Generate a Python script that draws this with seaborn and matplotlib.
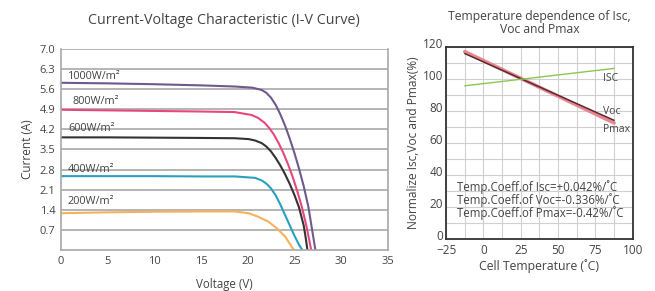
import matplotlib
matplotlib.use("Agg")
import matplotlib.pyplot as plt
import matplotlib.transforms as mtransforms
import seaborn as sns
import pandas as pd
import numpy as np

sns.set_style("white")
plt.rcParams['font.family'] = ['Open Sans', 'DejaVu Sans']

# I-V curves (voltage V, current A)
v_1000 = [0, 5, 10, 15, 18.6, 20.5, 21.5, 22.0, 22.5, 23.0, 23.5, 24.0, 24.5, 25.0, 25.5, 26.0, 26.5, 26.9, 27.25]
i_1000 = [5.82, 5.80, 5.77, 5.73, 5.69, 5.65, 5.57, 5.47, 5.30, 5.05, 4.72, 4.33, 3.88, 3.38, 2.83, 2.22, 1.50, 0.70, 0.0]
v_800 = [0, 5, 10, 15, 18.6, 20.4, 21.1, 21.8, 22.3, 22.8, 23.3, 23.8, 24.3, 24.8, 25.3, 25.8, 26.3, 26.8]
i_800 = [4.88, 4.86, 4.84, 4.82, 4.80, 4.70, 4.60, 4.43, 4.25, 4.02, 3.73, 3.39, 3.00, 2.56, 2.06, 1.50, 0.82, 0.0]
v_600 = [0, 5, 10, 15, 18.6, 20.1, 20.8, 21.5, 22.0, 22.5, 23.0, 23.5, 24.0, 24.5, 25.0, 25.5, 26.0, 26.2, 26.4]
i_600 = [3.92, 3.92, 3.91, 3.90, 3.89, 3.86, 3.81, 3.72, 3.60, 3.43, 3.20, 2.94, 2.64, 2.30, 1.92, 1.48, 0.85, 0.45, 0.0]
v_400 = [0, 5, 10, 15, 18.6, 20.8, 21.5, 22.0, 22.5, 23.0, 23.5, 24.0, 24.5, 25.0, 25.5, 25.85]
i_400 = [2.57, 2.57, 2.57, 2.56, 2.56, 2.51, 2.42, 2.31, 2.14, 1.90, 1.58, 1.22, 0.86, 0.50, 0.18, 0.0]
v_200 = [0, 5, 10, 15, 18.6, 20.1, 21.1, 22.2, 23.1, 24.0, 24.7, 24.95]
i_200 = [1.28, 1.31, 1.33, 1.34, 1.34, 1.28, 1.16, 0.99, 0.76, 0.47, 0.12, 0.0]

irr_labels = ["1000W/m²", "800W/m²", "600W/m²", "400W/m²", "200W/m²"]
irr_colors = ["#6e5a8c", "#e8477d", "#333333", "#2a9fbe", "#f6b25a"]
label_y = [6.05, 5.17, 4.22, 2.80, 1.67]
label_x = [0.75, 1.2, 0.75, 0.75, 0.75]

# temperature dependence (deg C, %)
temp = [-12.5, 87.5]
isc_pct = [95.8, 106.7]
voc_pct = [116.0, 74.2]
pmax_pct = [117.2, 72.6]
coeff_text = ["Temp.Coeff.of Isc=+0.042%/˚C",
              "Temp.Coeff.of Voc=-0.336%/˚C",
              "Temp.Coeff.of Pmax=-0.42%/˚C"]

iv = pd.concat([
    pd.DataFrame({"V": v, "I": i, "irr": lab})
    for v, i, lab in zip([v_1000, v_800, v_600, v_400, v_200],
                         [i_1000, i_800, i_600, i_400, i_200], irr_labels)
])
tc = pd.DataFrame({
    "T": temp * 3,
    "pct": pmax_pct + voc_pct + isc_pct,
    "s": ["Pmax"] * 2 + ["Voc"] * 2 + ["Isc"] * 2,
})

fig = plt.figure(figsize=(6.55, 2.91), dpi=100)
ax1 = fig.add_axes([0.093, 0.141, 0.499, 0.691])
ax2 = fig.add_axes([0.681, 0.179, 0.285, 0.659])

txt = "#444444"

# ---- left: I-V curve
for y in np.arange(0.7, 7.01, 0.7):
    ax1.axhline(y, color="#a8a8a8", lw=1.2, zorder=0)
sns.lineplot(data=iv, x="V", y="I", hue="irr", palette=irr_colors, hue_order=irr_labels,
             estimator=None, sort=False, lw=1.5, legend=False, ax=ax1)
for lab, x, y in zip(irr_labels, label_x, label_y):
    ax1.text(x, y, lab, fontsize=7.8, color=txt, va="center")
ax1.set_xlim(0, 35)
ax1.set_ylim(0, 7.0)
ax1.set_xticks(range(0, 36, 5))
ax1.set_yticks(np.round(np.arange(0.7, 7.01, 0.7), 1))
ax1.set_yticklabels([f"{t:.1f}" for t in np.arange(0.7, 7.01, 0.7)])
ax1.tick_params(labelsize=8, colors=txt, length=0, pad=4)
for s in ax1.spines.values():
    s.set_color("#a8a8a8")
    s.set_linewidth(1.2)
ax1.spines["top"].set_visible(False)
ax1.set_xlabel("Voltage (V)", fontsize=8.3, color=txt, labelpad=8)
ax1.set_ylabel("Current (A)", fontsize=8.5, color=txt, labelpad=4)
ax1.set_title("Current-Voltage Characteristic (I-V Curve)", fontsize=10.3, color=txt, pad=18)

# ---- right: temperature dependence
for x in np.arange(-25, 100.1, 12.5):
    ax2.axvline(x, color="#d0d0d0", lw=0.8, zorder=0)
for y in range(0, 121, 10):
    ax2.axhline(y, color="#d0d0d0", lw=0.8, zorder=0)
sns.lineplot(data=tc, x="T", y="pct", hue="s", hue_order=["Pmax", "Voc", "Isc"],
             palette=["#e8868f", "#5a2a2e", "#8cc652"], estimator=None, sort=False,
             legend=False, ax=ax2)
ax2.lines[-3].set_linewidth(2.6)
ax2.lines[-2].set_linewidth(1.1)
ax2.lines[-1].set_linewidth(1.0)
ax2.text(80, 100.5, "ISC", fontsize=7.5, color=txt, va="center")
ax2.text(80, 80, "Voc", fontsize=7.5, color=txt, va="center")
ax2.text(80, 68.7, "Pmax", fontsize=7.5, color=txt, va="center")
for t, y in zip(coeff_text, [32.7, 24.4, 16.5]):
    ax2.text(-18, y, t, fontsize=8.3, color=txt, va="center")
ax2.set_xlim(-25, 100)
ax2.set_ylim(0, 120)
ax2.set_xticks(range(-25, 101, 25))
ax2.set_yticks(range(0, 121, 20))
ax2.tick_params(axis="y", labelsize=8.5, colors=txt, length=0, pad=2)
ax2.tick_params(axis="x", labelsize=8.5, colors=txt, length=0, pad=4)
# y tick labels sit a little above their gridline in the original
shift = mtransforms.ScaledTranslation(0, 0.04, fig.dpi_scale_trans)
for lbl in ax2.get_yticklabels():
    lbl.set_transform(lbl.get_transform() + shift)
for s in ax2.spines.values():
    s.set_color("#333333")
    s.set_linewidth(1.3)
ax2.set_xlabel("Cell Temperature (˚C)", fontsize=8.8, color=txt, labelpad=1)
ax2.set_ylabel("Normalize Isc,Voc and Pmax(%)", fontsize=8.6, color=txt, labelpad=2)
ax2.set_title("Temperature dependence of Isc,\nVoc and Pmax", fontsize=8.7, color=txt,
              pad=10, linespacing=1.0)

fig.savefig("out.png", dpi=100, facecolor="white")
